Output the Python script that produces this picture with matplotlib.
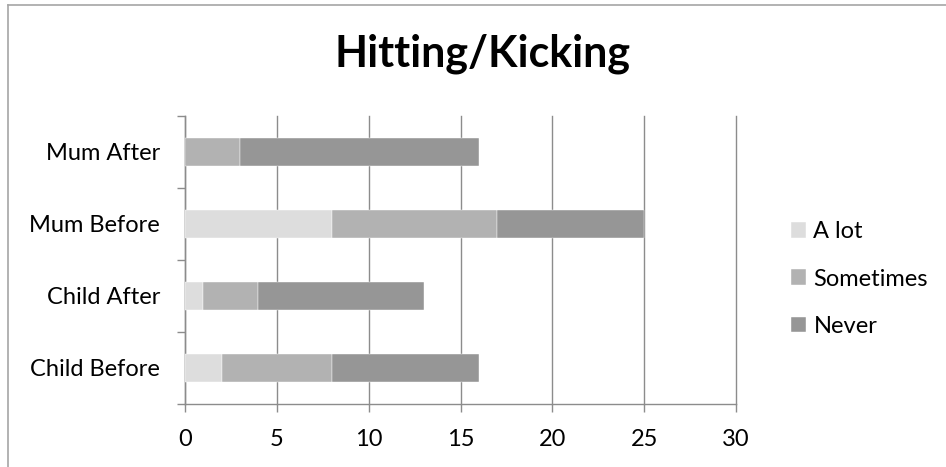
import matplotlib
matplotlib.use("Agg")
import matplotlib.pyplot as plt
from matplotlib.lines import Line2D
import numpy as np

categories = ["Child Before", "Child After", "Mum Before", "Mum After"]
a_lot = [2, 1, 8, 0]
sometimes = [6, 3, 9, 3]
never = [8, 9, 8, 13]
series_names = ["A lot", "Sometimes", "Never"]
colors = ["#dddddd", "#b2b2b2", "#969696"]
x_ticks = [0, 5, 10, 15, 20, 25, 30]

plt.rcParams['font.family'] = ['Lato', 'DejaVu Sans']

fig = plt.figure(figsize=(9.46, 4.67), dpi=100)
ax = fig.add_axes([185/946, 1-404/467, (736-185)/946, (404-116)/467])

y = np.arange(len(categories))
left = np.zeros(len(categories))
for vals, name, c in zip([a_lot, sometimes, never], series_names, colors):
    ax.barh(y, vals, left=left, height=0.4, color=c, label=name, zorder=3,
            edgecolor='white', linewidth=0.3)
    left += np.array(vals)

grid_col = "#8c8c8c"
ax.set_xlim(0, 30)
ax.set_ylim(-0.5, len(categories)-0.5)
ax.set_xticks(x_ticks)
ax.set_xticklabels([str(t) for t in x_ticks], fontsize=17)
ax.set_yticks(y)
ax.set_yticklabels(categories, fontsize=17)
ax.set_yticks(np.arange(-0.5, len(categories), 1), minor=True)
ax.tick_params(axis='y', which='major', length=0, pad=18)
ax.tick_params(axis='y', which='minor', length=6, color=grid_col, width=1)
ax.tick_params(axis='x', length=6, color=grid_col, width=1, pad=12)
ax.grid(axis='x', color=grid_col, linewidth=1, zorder=0)
for gl in ax.get_xgridlines():
    gl.set_clip_on(False)
for s in ['top', 'right']:
    ax.spines[s].set_visible(False)
for s in ['left', 'bottom']:
    ax.spines[s].set_color(grid_col)
    ax.spines[s].set_linewidth(1)

fig.text(482/946, 1-54/467, "Hitting/Kicking", ha='center', va='center',
         fontsize=31, fontweight='bold')

handles, labels = ax.get_legend_handles_labels()
leg = fig.legend(handles, labels, loc='center left', bbox_to_anchor=(774/946, 1-279/467),
                 frameon=False, fontsize=17, handlelength=0.64, handleheight=0.64,
                 handletextpad=0.33, labelspacing=1.12, borderpad=0.2)

frame_col = "#a6a6a6"
fig.add_artist(Line2D([7.5/946, 7.5/946], [0, 1-4.5/467], transform=fig.transFigure,
                      color=frame_col, linewidth=1.2))
fig.add_artist(Line2D([7.5/946, 1], [1-4.5/467, 1-4.5/467], transform=fig.transFigure,
                      color=frame_col, linewidth=1.2))

fig.savefig("out.png", dpi=100)
